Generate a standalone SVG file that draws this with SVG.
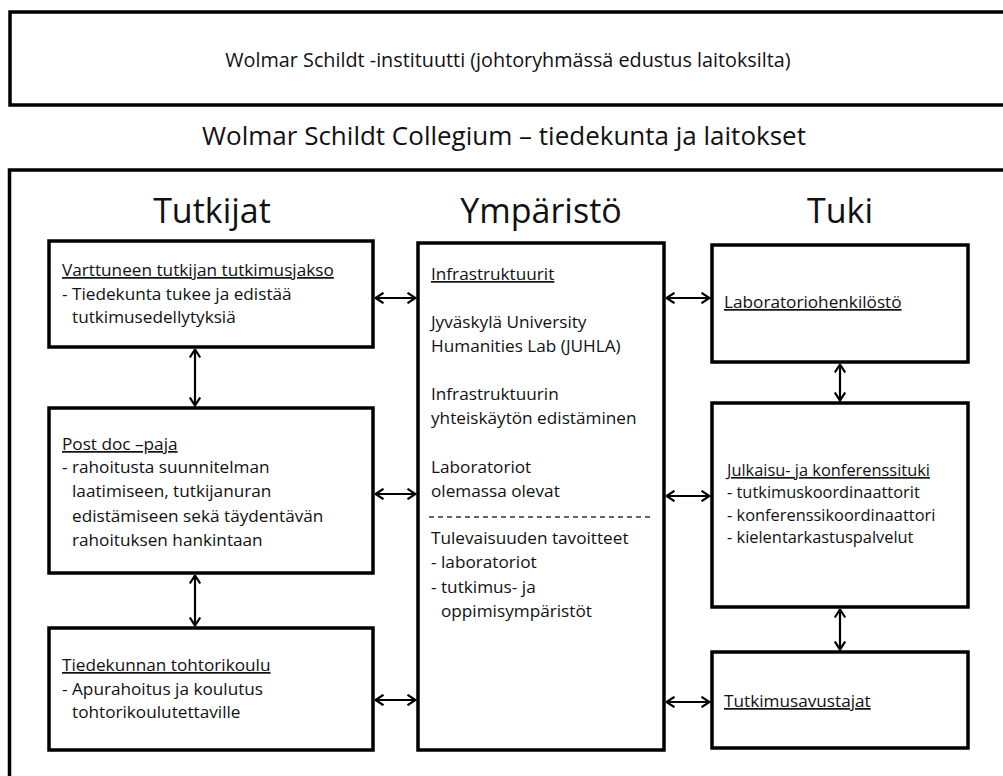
<svg xmlns="http://www.w3.org/2000/svg" width="1003" height="776" viewBox="0 0 1003 776">
<defs>
<style>
.box{fill:#fff;stroke:#000;stroke-width:3.5}
.t{font-family:"Open Sans","Liberation Sans",sans-serif;font-size:17.2px;fill:#111}
.tb{font-family:"Open Sans","Liberation Sans",sans-serif;font-size:16.4px;fill:#111}
.u{text-decoration:underline}
.h{font-family:"Open Sans","Liberation Sans",sans-serif;font-size:34px;fill:#111;text-anchor:middle}
.c{stroke:#000;stroke-width:2.2;fill:none}
</style>
<marker id="ah" viewBox="0 0 10 12" refX="9" refY="6" markerWidth="10" markerHeight="12" markerUnits="userSpaceOnUse" orient="auto-start-reverse">
<polyline points="1,0.8 9,6 1,11.2" fill="none" stroke="#000" stroke-width="2.2"/>
</marker>
</defs>
<rect width="1003" height="776" fill="#fff"/>
<g id="instituutti">
<rect class="box" x="10" y="12" width="1010" height="93"/>
<text x="508" y="67" text-anchor="middle" font-family="Open Sans, Liberation Sans, sans-serif" font-size="19.8" fill="#111">Wolmar Schildt -instituutti (johtoryhmässä edustus laitoksilta)</text>
</g>
<g id="collegium">
<text x="504" y="145" text-anchor="middle" font-family="Open Sans, Liberation Sans, sans-serif" font-size="26" fill="#111">Wolmar Schildt Collegium – tiedekunta ja laitokset</text>
<rect class="box" x="9.5" y="170" width="1010" height="700"/>
<text class="h" x="212" y="223">Tutkijat</text>
<text class="h" x="541" y="223">Ympäristö</text>
<text class="h" x="840" y="223">Tuki</text>
</g>
<g id="varttuneen">
<rect class="box" x="49" y="241" width="324" height="106"/>
<text class="t u" x="62" y="276">Varttuneen tutkijan tutkimusjakso</text>
<text class="t" x="62" y="300">- Tiedekunta tukee  ja edistää</text>
<text class="t" x="72" y="323">tutkimusedellytyksiä</text>
</g>
<g id="postdoc">
<rect class="box" x="49" y="408" width="324" height="165"/>
<text class="t u" x="62" y="450">Post doc –paja</text>
<text class="t" x="62" y="473">- rahoitusta suunnitelman</text>
<text class="t" x="72" y="497">laatimiseen, tutkijanuran</text>
<text class="t" x="72" y="522">edistämiseen sekä täydentävän</text>
<text class="t" x="72" y="546">rahoituksen  hankintaan</text>
</g>
<g id="tohtorikoulu">
<rect class="box" x="49" y="628" width="324" height="122"/>
<text class="t u" x="62" y="671">Tiedekunnan  tohtorikoulu</text>
<text class="t" x="62" y="695">- Apurahoitus  ja koulutus</text>
<text class="t" x="72" y="718">tohtorikoulutettaville</text>
</g>
<g id="ymparisto">
<rect class="box" x="418" y="243" width="246" height="507"/>
<text class="t u" x="431" y="280">Infrastruktuurit</text>
<text class="t" x="431" y="328">Jyväskylä University</text>
<text class="t" x="431" y="352">Humanities Lab (JUHLA)</text>
<text class="t" x="431" y="400">Infrastruktuurin</text>
<text class="t" x="431" y="424">yhteiskäytön edistäminen</text>
<text class="t" x="431" y="473">Laboratoriot</text>
<text class="t" x="431" y="497">olemassa olevat</text>
<line x1="429" y1="517" x2="650" y2="517" stroke="#333" stroke-width="1.3" stroke-dasharray="5,4"/>
<text class="t" x="431" y="544">Tulevaisuuden tavoitteet</text>
<text class="t" x="431" y="568">- laboratoriot</text>
<text class="t" x="431" y="593">- tutkimus-  ja</text>
<text class="t" x="441" y="617">oppimisympäristöt</text>
</g>
<g id="laboratoriohenkilosto">
<rect class="box" x="712" y="245" width="256" height="117"/>
<text class="t u" x="724" y="308">Laboratoriohenkilöstö</text>
</g>
<g id="julkaisu">
<rect class="box" x="712" y="403" width="256" height="204"/>
<text class="tb u" x="727" y="476">Julkaisu- ja konferenssituki</text>
<text class="tb" x="727" y="498">- tutkimuskoordinaattorit</text>
<text class="tb" x="727" y="521">- konferenssikoordinaattori</text>
<text class="tb" x="727" y="543">- kielentarkastuspalvelut</text>
</g>
<g id="tutkimusavustajat">
<rect class="box" x="712" y="652" width="256" height="96"/>
<text class="t u" x="724" y="707">Tutkimusavustajat</text>
</g>
<g id="connectors">
<line class="c" x1="195" y1="349.5" x2="195" y2="405.5" marker-start="url(#ah)" marker-end="url(#ah)"/>
<line class="c" x1="195" y1="575.5" x2="195" y2="625.5" marker-start="url(#ah)" marker-end="url(#ah)"/>
<line class="c" x1="840" y1="364.5" x2="840" y2="400.5" marker-start="url(#ah)" marker-end="url(#ah)"/>
<line class="c" x1="840" y1="609.5" x2="840" y2="649.5" marker-start="url(#ah)" marker-end="url(#ah)"/>
<line class="c" x1="375.5" y1="298" x2="415.5" y2="298" marker-start="url(#ah)" marker-end="url(#ah)"/>
<line class="c" x1="375.5" y1="494" x2="415.5" y2="494" marker-start="url(#ah)" marker-end="url(#ah)"/>
<line class="c" x1="375.5" y1="700" x2="415.5" y2="700" marker-start="url(#ah)" marker-end="url(#ah)"/>
<line class="c" x1="666.5" y1="298" x2="709.5" y2="298" marker-start="url(#ah)" marker-end="url(#ah)"/>
<line class="c" x1="666.5" y1="496" x2="709.5" y2="496" marker-start="url(#ah)" marker-end="url(#ah)"/>
<line class="c" x1="666.5" y1="702" x2="709.5" y2="702" marker-start="url(#ah)" marker-end="url(#ah)"/>
</g>
</svg>
